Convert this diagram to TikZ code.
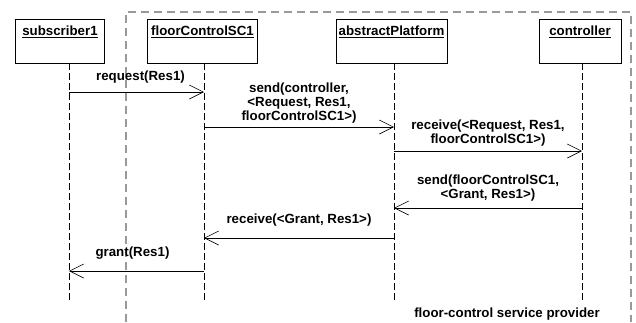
\documentclass[tikz,border=0pt]{standalone}
\usepackage{fontspec}
\setmainfont{Liberation Sans}
\usetikzlibrary{positioning,arrows.meta}

\begin{document}
\begin{tikzpicture}[
        x=1pt, y=-1pt,
        font=\fontsize{13.3}{14}\selectfont\bfseries,
        obj/.style={rectangle, draw, semithick, fill=white, minimum height=44pt, inner sep=0pt},
        title/.style={inner sep=0pt, anchor=north},
        life/.style={draw, dash pattern=on 7pt off 3pt},
        msg/.style={-{Straight Barb[length=14pt, width=14pt]}, semithick},
        lbl/.style={align=center, inner sep=0pt, midway},
        frame/.style={draw=black!40, line width=2.5pt, dash pattern=on 8pt off 5pt}
    ]
    \useasboundingbox (0,0) rectangle (636,322);

    % Provider
    \draw[frame] (126,322) -- (126,12) -- (631,12) -- (631,322);
    \node (prov) at (507,314) {floor-control service provider};

    % Objects
    \node[obj, minimum width=89pt] (sub) at (60,41) {};
    \node[obj, minimum width=110pt] (fc) at (202.5,41) {};
    \node[obj, minimum width=111pt] (ap) at (391.5,41) {};
    \node[obj, minimum width=82pt] (ctrl) at (580,41) {};
    \node[title, below=7pt of sub.north] {\underline{subscriber1}};
    \node[title, below=7pt of fc.north] {\underline{floorControlSC1}};
    \node[title, below=7pt of ap.north] {\underline{abstractPlatform}};
    \node[title, below=7pt of ctrl.north] {\underline{controller}};

    % Lifelines
    \coordinate (subL) at (69,63);
    \coordinate (fcL) at (204,63);
    \coordinate (apL) at (394,63);
    \coordinate (ctrlL) at (582,63);
    \coordinate (subE) at (69,300);
    \coordinate (fcE) at (204,300);
    \coordinate (apE) at (394,300);
    \coordinate (ctrlE) at (582,300);
    \draw[life] (subL) -- (subE);
    \draw[life] (fcL) -- (fcE);
    \draw[life] (apL) -- (apE);
    \draw[life] (ctrlL) -- (ctrlE);

    % Messages
    \draw[msg] ([yshift=-29pt]subL) -- ([yshift=-29pt]fcL)
        node[lbl, yshift=15pt, xshift=4pt] {request(Res1)};
    \draw[msg] ([yshift=-64pt]fcL) -- ([yshift=-64pt]apL)
        node[lbl, yshift=24pt] {send(controller,\\ <Request, Res1,\\ floorControlSC1>)};
    \draw[msg] ([yshift=-88pt]apL) -- ([yshift=-88pt]ctrlL)
        node[lbl, yshift=18pt] {receive(<Request, Res1,\\ floorControlSC1>)};
    \draw[msg] ([yshift=-145pt]ctrlL) -- ([yshift=-145pt]apL)
        node[lbl, yshift=20pt] {send(floorControlSC1,\\ <Grant, Res1>)};
    \draw[msg] ([yshift=-175pt]apL) -- ([yshift=-175pt]fcL)
        node[lbl, yshift=18pt] {receive(<Grant, Res1>)};
    \draw[msg] ([yshift=-208pt]fcL) -- ([yshift=-208pt]subL)
        node[lbl, yshift=18pt, xshift=-4pt] {grant(Res1)};

\end{tikzpicture}
\end{document}
